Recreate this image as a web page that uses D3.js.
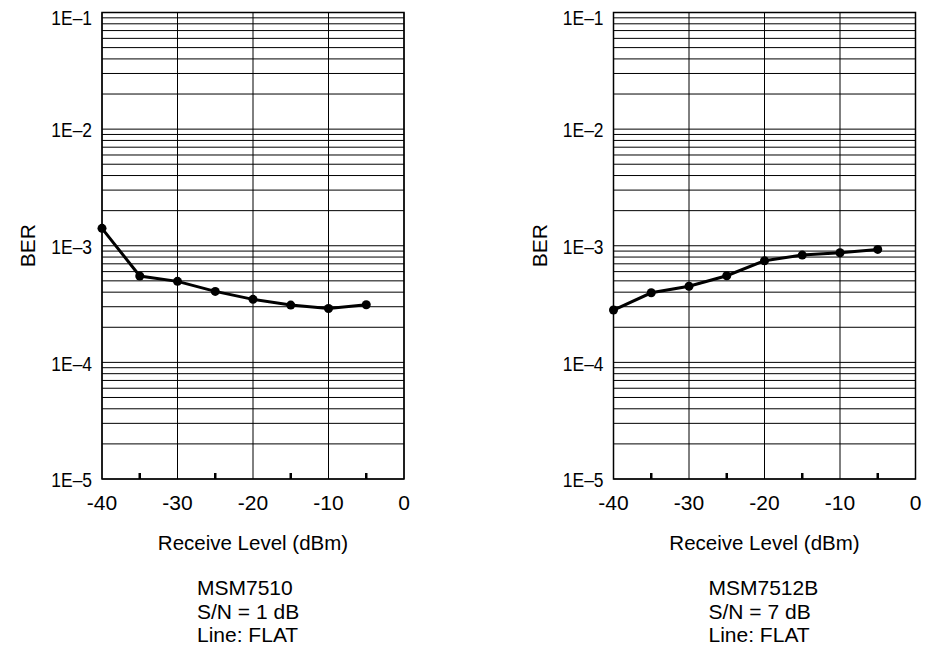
<!DOCTYPE html>
<html>
<head>
<meta charset="utf-8">
<script src="https://cdn.jsdelivr.net/npm/d3@7"></script>
<style>
  body { margin: 0; background: #fff; }
  text { font-family: "Liberation Sans", Arial, sans-serif; fill: #000; }
</style>
</head>
<body>
<div id="chart-area"></div>
<script>
// data
var levels = [-40, -35, -30, -25, -20, -15, -10, -5];
var berMSM7510 = [1.41e-3, 5.5e-4, 4.95e-4, 4.06e-4, 3.47e-4, 3.1e-4, 2.9e-4, 3.12e-4];
var berMSM7512B = [2.81e-4, 3.95e-4, 4.49e-4, 5.53e-4, 7.44e-4, 8.32e-4, 8.7e-4, 9.3e-4];
var xTicks = [-40, -30, -20, -10, 0];
var xMinorTicks = [-35, -25, -15, -5];
var yTicks = [1e-5, 1e-4, 1e-3, 1e-2, 1e-1];
var yTickLabels = ["1E\u20135", "1E\u20134", "1E\u20133", "1E\u20132", "1E\u20131"];
var captionsLeft = ["MSM7510", "S/N = 1 dB", "Line: FLAT"];
var captionsRight = ["MSM7512B", "S/N = 7 dB", "Line: FLAT"];

var svg = d3.select("#chart-area")
  .append("svg")
  .attr("width", 928)
  .attr("height", 660);

var width = 302;
var height = 466.5;

function drawPanel(left, values, captions) {
  var g = svg.append("g")
    .attr("transform", "translate(" + left + ",12.5)");

  var x = d3.scaleLinear().domain([-40, 0]).range([0, width]);
  var y = d3.scaleLog().domain([1e-5, 1e-1]).range([height, 0]);

  // horizontal grid (1..9 per decade)
  var minor = [];
  for (var e = -5; e < -1; e++) {
    for (var m = 1; m < 10; m++) minor.push(m * Math.pow(10, e));
  }
  g.selectAll(".hgrid")
    .data(minor)
    .enter()
    .append("line")
    .attr("x1", 0)
    .attr("x2", width)
    .attr("y1", function(d) { return y(d); })
    .attr("y2", function(d) { return y(d); })
    .attr("stroke", "#000")
    .attr("stroke-width", 1);

  // vertical grid
  g.selectAll(".vgrid")
    .data(xTicks)
    .enter()
    .append("line")
    .attr("x1", function(d) { return x(d); })
    .attr("x2", function(d) { return x(d); })
    .attr("y1", 0)
    .attr("y2", height)
    .attr("stroke", "#000")
    .attr("stroke-width", 1);

  // frame
  g.append("rect")
    .attr("width", width)
    .attr("height", height)
    .attr("fill", "none")
    .attr("stroke", "#000")
    .attr("stroke-width", 1.5);

  // small ticks at -35, -25 ...
  g.selectAll(".mtick")
    .data(xMinorTicks)
    .enter()
    .append("line")
    .attr("x1", function(d) { return x(d); })
    .attr("x2", function(d) { return x(d); })
    .attr("y1", height)
    .attr("y2", height - 6)
    .attr("stroke", "#000")
    .attr("stroke-width", 2.5);

  // x tick labels
  g.selectAll(".xlab")
    .data(xTicks)
    .enter()
    .append("text")
    .attr("x", function(d) { return x(d); })
    .attr("y", height + 31)
    .attr("text-anchor", "middle")
    .attr("font-size", "21px")
    .text(function(d) { return d; });

  // y tick labels (squeezed a bit, like the condensed face of the original)
  g.selectAll(".ylab")
    .data(yTicks)
    .enter()
    .append("text")
    .attr("transform", function(d, i) {
      var ty = y(d) + (i === yTicks.length - 1 ? 5 : 1);
      return "translate(-10," + ty + ") scale(0.83,1)";
    })
    .attr("dy", "0.35em")
    .attr("text-anchor", "end")
    .attr("font-size", "21px")
    .text(function(d, i) { return yTickLabels[i]; });

  // axis titles
  g.append("text")
    .attr("x", width / 2)
    .attr("y", height + 71)
    .attr("text-anchor", "middle")
    .attr("font-size", "20.5px")
    .text("Receive Level (dBm)");

  g.append("text")
    .attr("transform", "translate(-67," + (height / 2) + ") rotate(-90)")
    .attr("text-anchor", "middle")
    .attr("font-size", "21px")
    .text("BER");

  // captions
  g.selectAll(".cap")
    .data(captions)
    .enter()
    .append("text")
    .attr("x", 95)
    .attr("y", function(d, i) { return height + 116 + i * 23.5; })
    .attr("font-size", "21px")
    .text(function(d) { return d; });

  // series
  var line = d3.line()
    .x(function(d, i) { return x(levels[i]); })
    .y(function(d) { return y(d); });

  g.append("path")
    .datum(values)
    .attr("d", line)
    .attr("fill", "none")
    .attr("stroke", "#000")
    .attr("stroke-width", 3);

  g.selectAll(".dot")
    .data(values)
    .enter()
    .append("circle")
    .attr("cx", function(d, i) { return x(levels[i]); })
    .attr("cy", function(d) { return y(d); })
    .attr("r", 4.5)
    .attr("fill", "#000");
}

drawPanel(102, berMSM7510, captionsLeft);
drawPanel(613.5, berMSM7512B, captionsRight);
</script>
</body>
</html>
